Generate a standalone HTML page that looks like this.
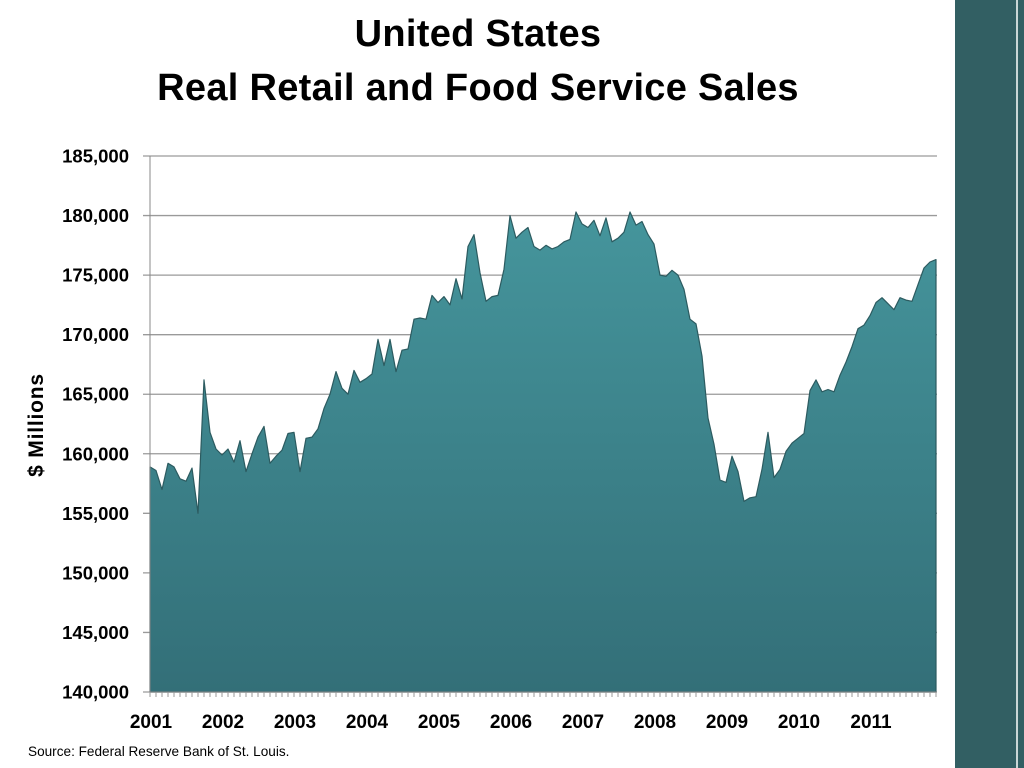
<!DOCTYPE html>
<html><head><meta charset="utf-8"><style>
body{margin:0;width:1024px;height:768px;background:#fff;overflow:hidden;font-family:"Liberation Sans",sans-serif;position:relative}
.t{position:absolute;left:0;width:956px;text-align:center;font-weight:bold;font-size:38px;color:#000;letter-spacing:0.3px}
</style></head><body>
<div class="t" style="top:13px">United States</div>
<div class="t" style="top:67px">Real Retail and Food Service Sales</div>
<div style="position:absolute;left:955px;top:0;width:69px;height:768px;background:#325f63"></div>
<div style="position:absolute;left:1016px;top:0;width:2px;height:768px;background:#c9d6d6"></div>
<div style="position:absolute;left:28px;top:744px;font-size:13.6px">Source: Federal Reserve Bank of St. Louis.</div>
<svg id="c" width="956" height="768" style="position:absolute;left:0;top:0">
<defs><linearGradient id="g" x1="0" y1="0" x2="0" y2="1"><stop offset="0" stop-color="#45959c"/><stop offset="1" stop-color="#336f78"/></linearGradient></defs>
</svg>
<script>
const years=["2001","2002","2003","2004","2005","2006","2007","2008","2009","2010","2011"];
const yTicks=[140000,145000,150000,155000,160000,165000,170000,175000,180000,185000];
const sales=[
158.9,158.6,157.0,159.2,158.9,157.9,157.7,158.8,155.0,166.2,161.8,160.4,
159.9,160.4,159.3,161.1,158.5,160.0,161.4,162.3,159.2,159.8,160.3,161.7,
161.8,158.5,161.3,161.4,162.1,163.8,165.0,166.9,165.5,165.0,167.0,166.0,
166.3,166.7,169.6,167.4,169.6,166.9,168.7,168.8,171.3,171.4,171.3,173.3,
172.7,173.2,172.5,174.7,173.0,177.4,178.4,175.2,172.8,173.2,173.3,175.5,
180.0,178.1,178.6,179.0,177.4,177.1,177.5,177.2,177.4,177.8,178.0,180.3,
179.3,179.0,179.6,178.3,179.8,177.8,178.1,178.6,180.3,179.2,179.5,178.4,
177.6,175.0,174.9,175.4,175.0,173.8,171.3,170.9,168.2,163.0,160.8,157.8,
157.6,159.8,158.5,156.0,156.3,156.4,158.7,161.8,158.0,158.7,160.2,160.9,
161.3,161.7,165.3,166.2,165.2,165.4,165.2,166.6,167.7,169.0,170.5,170.8,
171.6,172.7,173.1,172.6,172.1,173.1,172.9,172.8,174.2,175.6,176.1,176.3];
const svg=document.getElementById('c');const NS='http://www.w3.org/2000/svg';
const X0=150,X1=936,Y0=692,Y1=156,V0=140000,V1=185000;
const xs=i=>X0+(X1-X0)*i/(sales.length-1);
const ys=v=>Y0-(v-V0)/(V1-V0)*(Y0-Y1);
function el(t,a){const e=document.createElementNS(NS,t);for(const k in a)e.setAttribute(k,a[k]);svg.appendChild(e);return e;}
yTicks.forEach(v=>{const y=ys(v);
const l=el('line',{x1:143,x2:937,y1:y,y2:y,stroke:'#9a9a9a','stroke-width':1.3});


const t=el('text',{x:129,y:y+6.5,'text-anchor':'end','font-size':18.5,'font-weight':'bold','font-family':'Liberation Sans'});
t.textContent=v.toLocaleString('en-US');

});
let d='M'+xs(0)+','+Y0;
sales.forEach((v,i)=>{d+=' L'+xs(i).toFixed(1)+','+ys(v*1000).toFixed(1);});
d+=' L'+xs(sales.length-1)+','+Y0+' Z';
const a=el('path',{d:d,fill:'url(#g)',stroke:'#2c5b60','stroke-width':1.2,'stroke-linejoin':'round'});


const ax=el('line',{x1:150,x2:937,y1:Y0,y2:Y0,stroke:'#888','stroke-width':1});


const ay=el('line',{x1:150,x2:150,y1:Y1,y2:Y0,stroke:'#888','stroke-width':1});


sales.forEach((v,i)=>{const tk=el('line',{x1:xs(i),x2:xs(i),y1:Y0,y2:Y0+5,stroke:'#999','stroke-width':1});

});
years.forEach((yr,k)=>{const t=el('text',{x:xs(k*12)+1,y:728,'text-anchor':'middle','font-size':19,'font-weight':'bold','font-family':'Liberation Sans'});
t.textContent=yr;

});
const yt=el('text',{x:0,y:0,transform:'translate(43,425) rotate(-90)','text-anchor':'middle','font-size':21,'font-weight':'bold','font-family':'Liberation Sans','letter-spacing':'0.8'});
yt.textContent='$ Millions';


</script>
</body></html>
